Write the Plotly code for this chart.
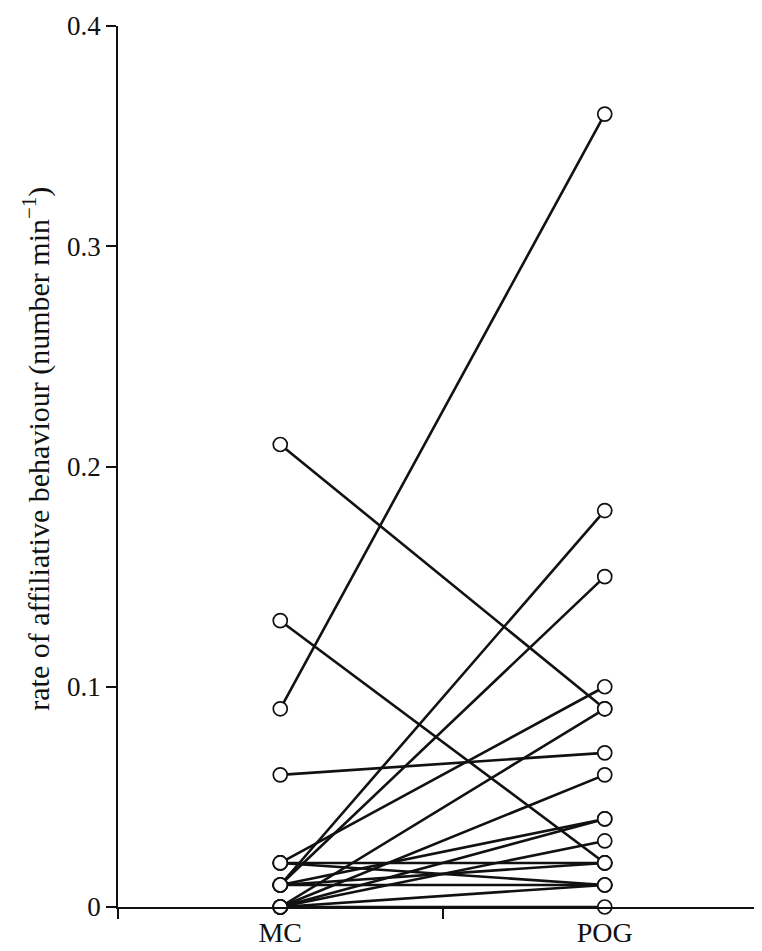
import plotly.graph_objects as go

# paired observations, one entry per individual
groups = ["MC", "POG"]
mc = [0.21, 0.13, 0.09, 0.06, 0.01, 0.01, 0.02, 0.00, 0.00,
      0.01, 0.00, 0.00, 0.02, 0.02, 0.01, 0.01, 0.00, 0.00]
pog = [0.09, 0.02, 0.36, 0.07, 0.18, 0.15, 0.10, 0.09, 0.06,
       0.04, 0.04, 0.03, 0.02, 0.01, 0.02, 0.01, 0.01, 0.00]

y_ticks = [0, 0.1, 0.2, 0.3, 0.4]
y_labels = ["0", "0.1", "0.2", "0.3", "0.4"]

serif = "Liberation Serif, Times New Roman, serif"

fig = go.Figure()

# connecting lines first, circles drawn on top
for a, b in zip(mc, pog):
    fig.add_trace(go.Scatter(x=groups, y=[a, b], mode="lines",
                             line=dict(color="#111111", width=2.6),
                             showlegend=False, hoverinfo="skip"))

fig.add_trace(go.Scatter(x=[groups[0]] * len(mc) + [groups[1]] * len(pog),
                         y=mc + pog, mode="markers", cliponaxis=False,
                         marker=dict(symbol="circle", size=14, color="white",
                                     line=dict(color="#111111", width=1.7)),
                         showlegend=False))

fig.update_xaxes(type="category", range=[-0.5, 1.5], tickson="boundaries",
                 ticks="outside", ticklen=10, tickwidth=1.5, tickcolor="#111111",
                 showline=True, linecolor="#111111", linewidth=1.5,
                 showgrid=False, zeroline=False,
                 tickfont=dict(family=serif, size=28, color="#111111"))

fig.update_yaxes(range=[0, 0.4], tickvals=y_ticks, ticktext=y_labels,
                 ticks="outside", ticklen=10, tickwidth=1.5, tickcolor="#111111",
                 showline=True, linecolor="#111111", linewidth=1.5,
                 showgrid=False, zeroline=False,
                 tickfont=dict(family=serif, size=27, color="#111111"))

fig.add_annotation(text="rate of affiliative behaviour (number min<sup>−1</sup>)",
                   xref="paper", yref="paper", x=-0.125, y=0.52,
                   xanchor="center", yanchor="middle", textangle=-90,
                   showarrow=False,
                   font=dict(family=serif, size=30, color="#111111"))

fig.update_layout(width=762, height=951,
                  margin=dict(l=110, r=3, t=16, b=52),
                  plot_bgcolor="white", paper_bgcolor="white")

fig.write_html("out.html")
